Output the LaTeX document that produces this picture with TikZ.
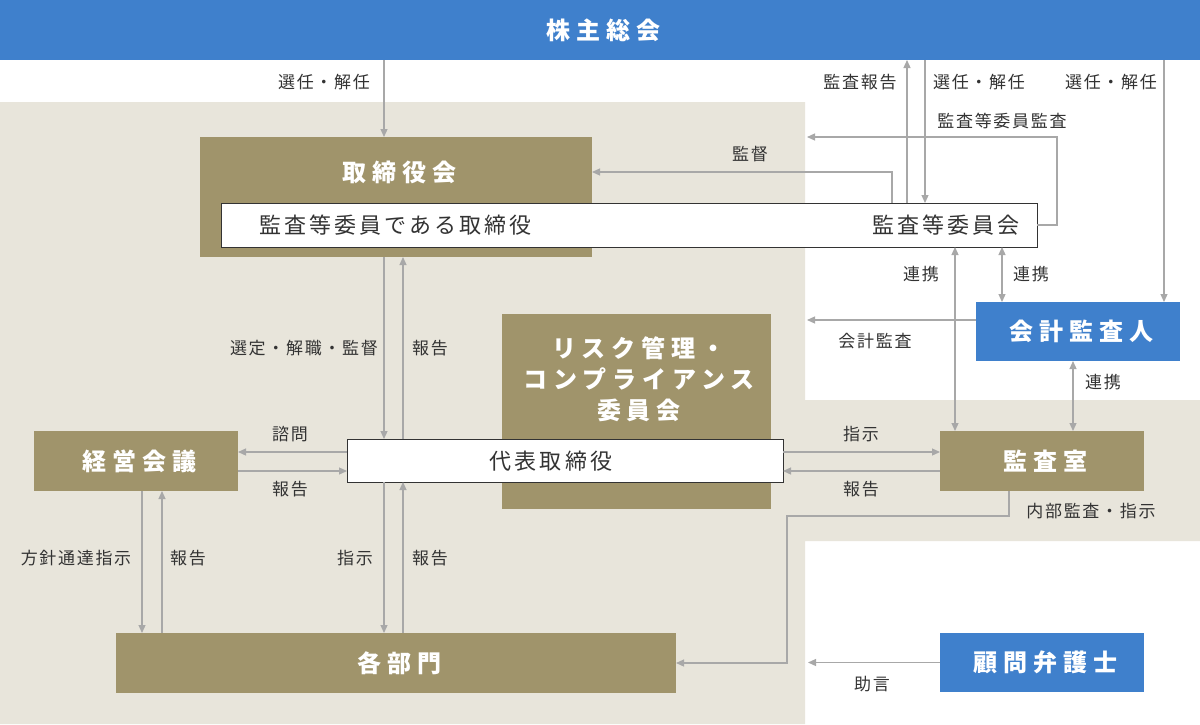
\documentclass[tikz,border=0pt]{standalone}
\usepackage{fontspec}
\usetikzlibrary{arrows.meta}
\newfontfamily\jplab{Noto Sans CJK JP}[LetterSpace=10]
\newfontfamily\jpin{Noto Sans CJK JP}[LetterSpace=14]
\newfontfamily\jpttl{Noto Sans CJK JP}[LetterSpace=25]
\definecolor{blueC}{HTML}{3F80CC}
\definecolor{oliveC}{HTML}{A0946B}
\definecolor{beigeC}{HTML}{E8E5DB}
\definecolor{arrG}{HTML}{A8A8A8}
\definecolor{txtC}{HTML}{333333}
\begin{document}
\begin{tikzpicture}[x=1pt,y=-1pt,
  bx/.style={rectangle,draw=none,inner sep=0pt,outer sep=0pt},
  obox/.style={bx,fill=oliveC},
  bbox/.style={bx,fill=blueC},
  wbox/.style={rectangle,inner sep=0pt,outer sep=0pt,fill=white,draw=txtC,line width=1pt},
  ttl/.style={font=\jpttl\bfseries\fontsize{24}{31}\selectfont,text=white,align=center,inner sep=0pt,xshift=3pt},
  intext/.style={font=\jpin\fontsize{22}{26}\selectfont,text=txtC,inner sep=0pt},
  lab/.style={font=\jplab\fontsize{17}{20}\selectfont,text=txtC,inner sep=0pt},
  tip/.tip={Triangle[length=8pt,width=7pt]},
  arr/.style={draw=arrG,line width=1.2pt,-tip},
  arrb/.style={draw=arrG,line width=1.2pt,tip-tip},
  ln/.style={draw=arrG,line width=1.2pt}]
\fill[white] (0,0) rectangle (1200,724);
\useasboundingbox (0,0) rectangle (1200,724);
\fill[beigeC] (0,102) -- (805,102) -- (805,400) -- (1200,400) -- (1200,541) -- (805,541) -- (805,724) -- (0,724) -- cycle;

% boxes
\node[bbox,minimum width=1200pt,minimum height=60pt] (kabu) at (600,30) {};
\node[ttl] (kabuT) at (600,30) {株主総会};
\node[obox,minimum width=392pt,minimum height=120pt] (tori) at (396,197) {};
\node[ttl] (toriT) at (396,172) {取締役会};
\node[obox,minimum width=269pt,minimum height=195pt] (risk) at (636.5,411.5) {};
\node[ttl] (riskT) at (636,379) {リスク管理・\\コンプライアンス\\委員会};
\node[wbox,minimum width=816pt,minimum height=44pt] (inner) at (629,225) {};
\node[intext,anchor=west] (innerL) at (259,225) {監査等委員である取締役};
\node[intext] (innerR) at (946,225) {監査等委員会};
\node[wbox,minimum width=436pt,minimum height=43pt] (daihyo) at (565,460.5) {};
\node[intext] (daihyoT) at (551,461) {代表取締役};
\node[obox,minimum width=204pt,minimum height=60pt] (keiei) at (136,461) {};
\node[ttl] (keieiT) at (136,461) {経営会議};
\node[obox,minimum width=204pt,minimum height=60pt] (kansa) at (1042,461) {};
\node[ttl] (kansaT) at (1042,461) {監査室};
\node[bbox,minimum width=204pt,minimum height=59pt] (kaikei) at (1078,331.5) {};
\node[ttl] (kaikeiT) at (1078,331.5) {会計監査人};
\node[obox,minimum width=560pt,minimum height=60pt] (bumon) at (396,663) {};
\node[ttl] (bumonT) at (396,663) {各部門};
\node[bbox,minimum width=204pt,minimum height=59pt] (komon) at (1042,662.5) {};
\node[ttl] (komonT) at (1042,662.5) {顧問弁護士};
\coordinate (endA) at (807,137);
\coordinate (endB) at (807,320);
\coordinate (endC) at (808,662.5);

% connectors
\draw[arr] (384,0 |- kabu.south) -- (384,0 |- tori.north);
\draw[arr] (907,0 |- inner.north) -- (907,0 |- kabu.south);
\draw[arr] (925,0 |- kabu.south) -- (925,0 |- inner.north);
\draw[arr] (1164,0 |- kabu.south) -- (1164,0 |- kaikei.north);
\draw[arr] (inner.east) -- (1057,0 |- inner.east) -- (1057,137) -- (endA);
\draw[arr] (892,0 |- inner.north) -- (892,172) -- (tori.east |- 0,172);
\draw[arrb] (955,0 |- inner.south) -- (955,0 |- kansa.north);
\draw[arrb] (1002,0 |- inner.south) -- (1002,0 |- kaikei.north);
\draw[arrb] (1073,0 |- kaikei.south) -- (1073,0 |- kansa.north);
\draw[arr] (kaikei.west |- 0,320) -- (endB);
\draw[arr] (daihyo.east |- 0,452) -- (kansa.west |- 0,452);
\draw[arr] (kansa.west |- 0,471) -- (daihyo.east |- 0,471);
\draw[arr] (1009,0 |- kansa.south) -- (1009,516) -- (787,516) -- (787,663) -- (bumon.east |- 0,663);
\draw[arr] (komon.west) -- (endC);
\draw[arr] (384,0 |- tori.south) -- (384,0 |- daihyo.north);
\draw[arr] (403,0 |- daihyo.north) -- (403,0 |- tori.south);
\draw[arr] (daihyo.west |- 0,452) -- (keiei.east |- 0,452);
\draw[arr] (keiei.east |- 0,471) -- (daihyo.west |- 0,471);
\draw[arr] (142,0 |- keiei.south) -- (142,0 |- bumon.north);
\draw[arr] (162,0 |- bumon.north) -- (162,0 |- keiei.south);
\draw[arr] (384,0 |- daihyo.south) -- (384,0 |- bumon.north);
\draw[arr] (403,0 |- bumon.north) -- (403,0 |- daihyo.south);

% labels
\node[lab] (l1) at (324,82) {選任・解任};
\node[lab] (l2) at (860,82) {監査報告};
\node[lab] (l3) at (979,82) {選任・解任};
\node[lab] (l4) at (1111,82) {選任・解任};
\node[lab] (l5) at (1002,121) {監査等委員監査};
\node[lab] (l6) at (750,154) {監督};
\node[lab] (l7) at (921,274) {連携};
\node[lab] (l8) at (1031,274) {連携};
\node[lab] (l9) at (1103,382) {連携};
\node[lab] (l10) at (875,341) {会計監査};
\node[lab] (l11) at (304,348) {選定・解職・監督};
\node[lab] (l12) at (430,348) {報告};
\node[lab] (l13) at (290,434) {諮問};
\node[lab] (l14) at (290,489) {報告};
\node[lab] (l15) at (861,434) {指示};
\node[lab] (l16) at (861,489) {報告};
\node[lab] (l17) at (1091,511) {内部監査・指示};
\node[lab] (l18) at (76,558) {方針通達指示};
\node[lab] (l19) at (188,558) {報告};
\node[lab] (l20) at (355,558) {指示};
\node[lab] (l21) at (430,558) {報告};
\node[lab] (l22) at (872,684) {助言};
\end{tikzpicture}
\end{document}
